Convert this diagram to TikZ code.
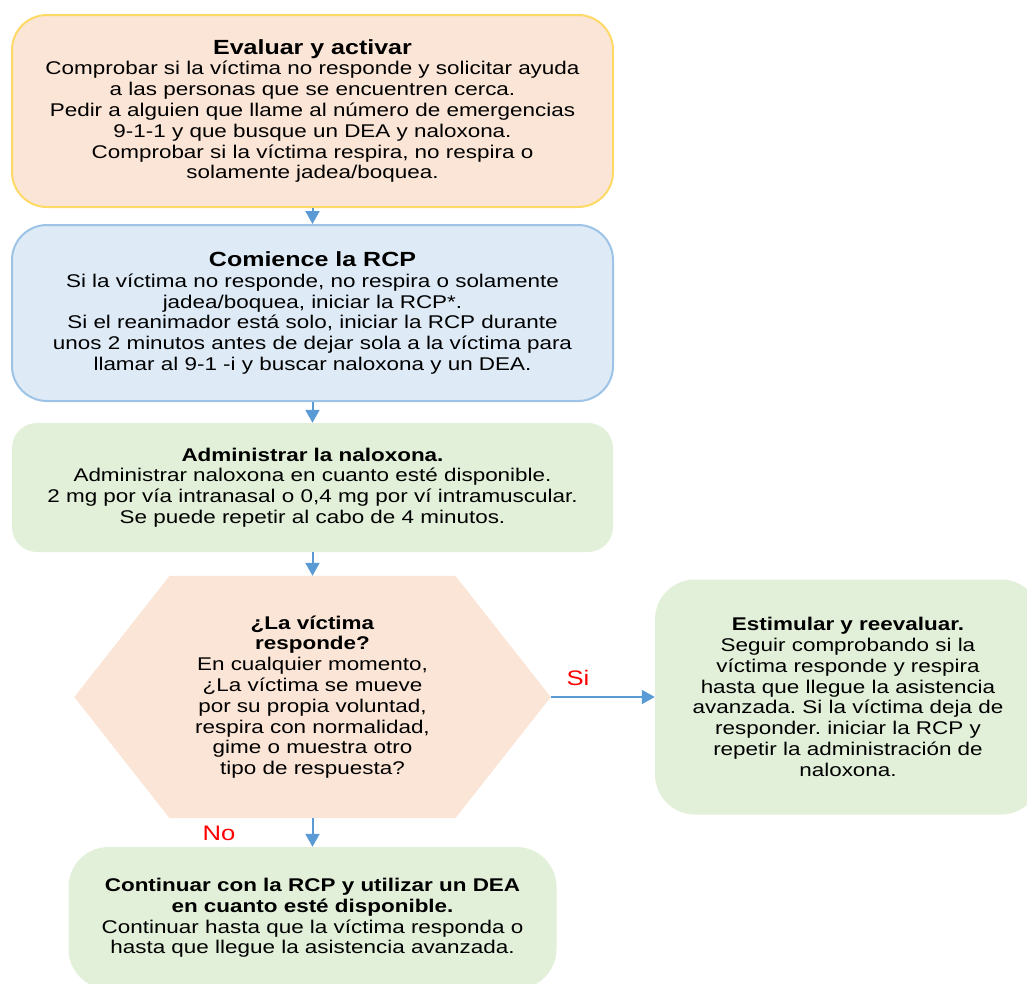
\documentclass[tikz,border=0pt]{standalone}
\usepackage{fontspec}
\setmainfont{Liberation Sans}[FakeStretch=1.22]
\usepackage{tikz}
\usetikzlibrary{arrows.meta,positioning,calc,backgrounds}
\definecolor{peachfill}{HTML}{FBE5D6}
\definecolor{yellowline}{HTML}{FFD966}
\definecolor{bluefill}{HTML}{DEEBF7}
\definecolor{blueline}{HTML}{9DC3E6}
\definecolor{greenfill}{HTML}{E2F0D9}
\definecolor{arrowblue}{HTML}{5B9BD5}
\definecolor{labelred}{HTML}{FF0000}
\newcommand{\bigtitle}[1]{{\fontsize{20.5}{22}\selectfont\bfseries #1}}
\frenchspacing
\tikzset{
  block/.style={align=center, inner sep=0pt, font=\fontsize{18.4}{20.8}\selectfont},
  bpeach/.style={block, fill=peachfill, draw=yellowline, line width=2pt, rounded corners=35pt},
  bblue/.style={block, fill=bluefill, draw=blueline, line width=2pt, rounded corners=35pt},
  bgreen/.style={block, fill=greenfill, rounded corners=25pt},
  bgreenbig/.style={block, fill=greenfill, rounded corners=40pt},
  dectext/.style={block},
  lbl/.style={text=labelred, font=\fontsize{21}{23}\selectfont, inner sep=0pt},
  arrow/.style={-{Triangle[width=14pt,length=13pt]}, draw=arrowblue, fill=arrowblue, line width=2pt}
}
\begin{document}
\begin{tikzpicture}[x=1pt,y=-1pt]
  \clip (0,0) rectangle (1027,983);

  \node[bpeach, minimum width=601pt, minimum height=192pt] (eval) at (312.5,111)
    {\bigtitle{Evaluar y activar}\\
     Comprobar si la víctima no responde y solicitar ayuda\\
     a las personas que se encuentren cerca.\\
     Pedir a alguien que llame al número de emergencias\\
     9-1-1 y que busque un DEA y naloxona.\\
     Comprobar si la víctima respira, no respira o\\
     solamente jadea/boquea.};
  \node[bblue, minimum width=601pt, minimum height=176pt] (rcp) at (312.5,313)
    {\bigtitle{Comience la RCP}\\
     Si la víctima no responde, no respira o solamente\\
     jadea/boquea, iniciar la RCP*.\\
     Si el reanimador está solo, iniciar la RCP durante\\
     unos 2 minutos antes de dejar sola a la víctima para\\
     llamar al 9-1 -i y buscar naloxona y un DEA.};
  \node[bgreen, minimum width=601pt, minimum height=129pt] (nalox) at (312.5,487.5)
    {\textbf{Administrar la naloxona.}\\
     Administrar naloxona en cuanto esté disponible.\\
     2 mg por vía intranasal o 0,4 mg por ví intramuscular.\\
     Se puede repetir al cabo de 4 minutos.};

  \node[dectext, minimum width=476pt, minimum height=242pt] (dec) at (312.5,697)
    {\textbf{¿La víctima}\\
     \textbf{responde?}\\
     En cualquier momento,\\
     ¿La víctima se mueve\\
     por su propia voluntad,\\
     respira con normalidad,\\
     gime o muestra otro\\
     tipo de respuesta?};
  \begin{scope}[on background layer]
    \fill[peachfill] (dec.west)
      -- ($(dec.north west)!0.2!(dec.north east)$)
      -- ($(dec.north west)!0.8!(dec.north east)$)
      -- (dec.east)
      -- ($(dec.south west)!0.8!(dec.south east)$)
      -- ($(dec.south west)!0.2!(dec.south east)$) -- cycle;
  \end{scope}

  \node[bgreenbig, minimum width=386pt, minimum height=235pt] (stim) at (848,697)
    {\textbf{Estimular y reevaluar.}\\
     Seguir comprobando si la\\
     víctima responde y respira\\
     hasta que llegue la asistencia\\
     avanzada. Si la víctima deja de\\
     responder. iniciar la RCP y\\
     repetir la administración de\\
     naloxona.};
  \node[bgreenbig, minimum width=488pt, minimum height=142pt] (cont) at (312.5,918)
    {\textbf{Continuar con la RCP y utilizar un DEA}\\
     \textbf{en cuanto esté disponible.}\\
     Continuar hasta que la víctima responda o\\
     hasta que llegue la asistencia avanzada.};

  \node[lbl] (si) at (578,678) {Si};
  \node[lbl] (no) at (219,833) {No};

  \draw[arrow] (eval) -- (rcp);
  \draw[arrow] (rcp) -- (nalox);
  \draw[arrow] (nalox) -- (dec);
  \draw[arrow] (dec) -- (stim);
  \draw[arrow] (dec) -- (cont);
\end{tikzpicture}
\end{document}
